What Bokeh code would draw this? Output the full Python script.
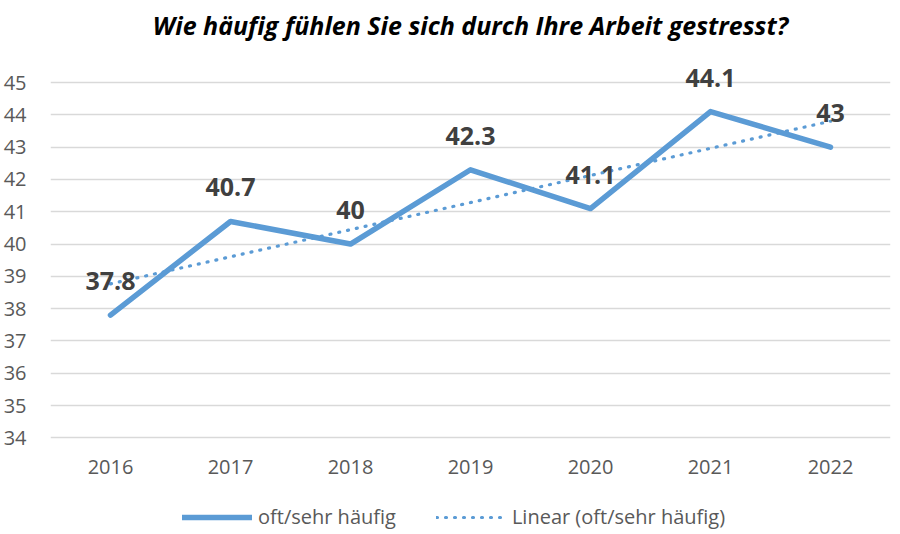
import numpy as np
from bokeh.plotting import figure
from bokeh.layouts import column
from bokeh.models import Range1d, FixedTicker, Label, Legend, LegendItem, ColumnDataSource
from bokeh.core.properties import value
from bokeh.embed import file_html
from bokeh.resources import INLINE

years = ["2016", "2017", "2018", "2019", "2020", "2021", "2022"]
stress = [37.8, 40.7, 40.0, 42.3, 41.1, 44.1, 43.0]
y_ticks = [34, 35, 36, 37, 38, 39, 40, 41, 42, 43, 44, 45]
title_text = "Wie häufig fühlen Sie sich durch Ihre Arbeit gestresst?"
series_name = "oft/sehr häufig"
trend_name = "Linear (oft/sehr häufig)"

# Excel-style linear trendline (least squares over the category index)
idx = np.arange(len(stress))
slope, intercept = np.polyfit(idx, stress, 1)
trend = list(intercept + slope * idx)

BLUE = "#5B9BD5"
FONT = "Open Sans"

src = ColumnDataSource(dict(x=years, y=stress, lab=[f"{v:g}" for v in stress], t=trend))

p = figure(x_range=years, y_range=Range1d(33.95, 47.2),
           frame_width=840, frame_height=428,
           min_border_left=42, min_border_right=2, min_border_top=11, min_border_bottom=54,
           output_backend="svg", toolbar_location=None, outline_line_color=None)

p.xgrid.grid_line_color = None
p.ygrid.grid_line_color = "#D9D9D9"
p.ygrid.grid_line_width = 1.3
p.yaxis.ticker = FixedTicker(ticks=y_ticks)

for ax in (p.xaxis, p.yaxis):
    ax.axis_line_color = None
    ax.major_tick_line_color = None
    ax.minor_tick_line_color = None
    ax.major_label_text_font = FONT
    ax.major_label_text_font_size = "20px"
    ax.major_label_text_color = "#595959"
p.yaxis.major_label_standoff = 18
p.xaxis.major_label_standoff = 14

line_style_trend = dict(line_color=BLUE, line_width=3.2, line_dash="1 8", line_cap="round")
line_style_main = dict(line_color=BLUE, line_width=5.5, line_join="round", line_cap="round")

p.line("x", "t", source=src, **line_style_trend)
p.line("x", "y", source=src, **line_style_main)

p.text("x", "y", text="lab", source=src, text_font=value(FONT), text_font_style="bold",
       text_font_size="25px", text_color="#404040", text_align="center",
       text_baseline="middle", y_offset=-34)

p.add_layout(Label(x=3.5, y=46.77, text=title_text, text_font=FONT,
                   text_font_style="bold italic", text_font_size="25px",
                   text_color="#000000", text_align="center", text_baseline="middle"))

# legend strip below the chart (series drawn out of its visible y-range, only the legend shows)
lg = figure(width=884, height=37, x_range=years, y_range=Range1d(0, 1),
            x_axis_type=None, y_axis_type=None,
            min_border=0, output_backend="svg", toolbar_location=None,
            outline_line_color=None)
lg.grid.visible = False
lr_main = lg.line("x", "y", source=src, **line_style_main)
lr_trend = lg.line("x", "t", source=src, **line_style_trend)
legend = Legend(items=[LegendItem(label=series_name, renderers=[lr_main]),
                       LegendItem(label=trend_name, renderers=[lr_trend])],
                orientation="horizontal", location=(132, 0),
                label_text_font=FONT, label_text_font_size="20px",
                label_text_color="#595959", glyph_width=70, label_standoff=6,
                spacing=40, padding=0, border_line_color=None,
                background_fill_alpha=0, margin=0)
lg.add_layout(legend, "center")

layout = column(p, lg, spacing=0)
open("out.html", "w").write(file_html(layout, INLINE))
